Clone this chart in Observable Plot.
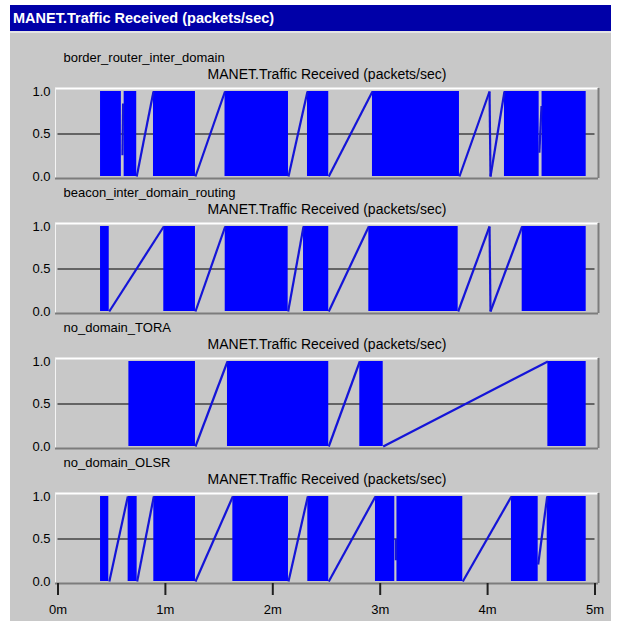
<!DOCTYPE html>
<html>
<head>
<meta charset="utf-8">
<script src="https://cdn.jsdelivr.net/npm/d3@7"></script>
<script src="https://cdn.jsdelivr.net/npm/@observablehq/plot@0.6"></script>
<style>
  html, body { margin: 0; padding: 0; background: #ffffff; }
  #win { position: absolute; left: 10px; top: 5px; width: 601px; height: 616px; background: #c8c8c8; }
  #bar { height: 26px; background: #0000a8; color: #ffffff; font: bold 14.5px "Liberation Sans", Arial, sans-serif;
         line-height: 26px; padding-left: 3px; border-bottom: 2px solid #e4e4e4; box-sizing: content-box; }
  #chart svg { display: block; }
</style>
</head>
<body>
<div id="win">
  <div id="bar">MANET.Traffic Received (packets/sec)</div>
  <div id="chart"></div>
</div>
<script>
// Scenario names (one panel each)
const series = ["border_router_inter_domain", "beacon_inter_domain_routing", "no_domain_TORA", "no_domain_OLSR"];
const panelTitle = "MANET.Traffic Received (packets/sec)";

// Time ticks (minutes)
const xTicks = [0, 1, 2, 3, 4, 5];
const yTicks = [0, 0.5, 1];

// Dense 0/1 bursts: [start, end] in minutes, per scenario
const burstsBorder = [[0.396, 0.590], [0.616, 0.733], [0.889, 1.280], [1.555, 2.146], [2.323, 2.521], [2.928, 3.738], [4.157, 4.480], [4.507, 4.918]];
const burstsBeacon = [[0.396, 0.477], [0.985, 1.280], [1.557, 2.143], [2.286, 2.521], [2.894, 3.726], [4.322, 4.918]];
const burstsTORA   = [[0.660, 1.280], [1.578, 2.521], [2.810, 3.028], [4.561, 4.918]];
const burstsOLSR   = [[0.396, 0.473], [0.653, 0.737], [0.892, 1.280], [1.628, 2.146], [2.326, 2.521], [2.956, 3.136], [3.156, 3.769], [4.222, 4.471], [4.555, 4.918]];

// Sparse samples joined by straight lines: [t1, v1, t2, v2]
const linesBorder = [[0.600, 0.25, 0.606, 0.86], [0.733, 0, 0.889, 1], [1.280, 0, 1.555, 1], [2.146, 0, 2.323, 1], [2.521, 0, 2.928, 1],
                     [3.738, 0, 4.018, 1], [4.018, 1, 4.027, 0], [4.027, 0, 4.157, 1], [4.482, 0.28, 4.502, 0.83]];
const linesBeacon = [[0.477, 0, 0.985, 1], [1.280, 0, 1.557, 1], [2.143, 0, 2.286, 1], [2.521, 0, 2.894, 1],
                     [3.726, 0, 4.018, 1], [4.018, 1, 4.027, 0], [4.027, 0, 4.322, 1]];
const linesTORA   = [[1.280, 0, 1.578, 1], [2.521, 0, 2.810, 1], [3.028, 0, 4.561, 1]];
const linesOLSR   = [[0.478, 0, 0.650, 1], [0.737, 0, 0.892, 1], [1.280, 0, 1.628, 1], [2.146, 0, 2.326, 1], [2.521, 0, 2.956, 1],
                     [3.146, 0.25, 3.146, 0.5], [3.769, 0, 4.222, 1], [4.471, 0.2, 4.555, 1]];

const burstLists = [burstsBorder, burstsBeacon, burstsTORA, burstsOLSR];
const lineLists = [linesBorder, linesBeacon, linesTORA, linesOLSR];

const bursts = burstLists.flatMap((list, i) => list.map(([a, b]) => ({series: series[i], start: a, end: b, lo: 0, hi: 1})));
const segs = lineLists.flatMap((list, i) => list.map(([t1, v1, t2, v2]) => ({series: series[i], t1, v1, t2, v2})));

const font = '"Liberation Sans", Arial, sans-serif';

const chart = Plot.plot({
  width: 601,
  height: 588,
  marginLeft: 45,
  marginRight: 13,
  marginTop: 55,
  marginBottom: 38,
  style: {background: "transparent", fontFamily: font, fontSize: "13px", color: "#000"},
  x: {domain: [0, 5], range: [47.5, 584.5]},
  y: {domain: [0, 1], insetTop: 3, insetBottom: 2},
  fy: {domain: series, axis: null, paddingInner: 1 / 3, paddingOuter: 0, round: false},
  marks: [
    // panel edges (sunken look)
    Plot.ruleY([1], {dy: -3, stroke: "#ffffff", strokeWidth: 2}),
    Plot.ruleX([0], {dx: -2.5, stroke: "#f4f4f4", strokeWidth: 1}),
    Plot.ruleY([0], {dy: 2, stroke: "#7c7c7c", strokeWidth: 2}),
    Plot.ruleX([5], {dx: 3.5, stroke: "#7c7c7c", strokeWidth: 2}),
    // 0.5 reference line
    Plot.ruleY([0.5], {x1: 0, x2: 5, stroke: "#000000", strokeWidth: 1}),
    // dense bursts
    Plot.rect(bursts, {fy: "series", x1: "start", x2: "end", y1: "lo", y2: "hi", fill: "#0000ff"}),
    // sparse connecting lines
    Plot.link(segs, {fy: "series", x1: "t1", y1: "v1", x2: "t2", y2: "v2", stroke: "#1414d8", strokeWidth: 2.2}),
    // axes
    Plot.axisY({ticks: yTicks, tickFormat: d => d.toFixed(1), tickSize: 0, tickPadding: 5, fontSize: 13, label: null}),
    Plot.axisX({ticks: xTicks, tickFormat: d => d + "m", tickSize: 12, tickPadding: 9, stroke: "#202020", strokeWidth: 2,
                fontSize: 13, label: null, facetAnchor: "bottom"}),
    // panel labels
    Plot.text(series, {fy: d => d, text: d => d, frameAnchor: "top-left", dx: 8, dy: -31, textAnchor: "start",
                       lineAnchor: "middle", fontSize: 13, fill: "#000"}),
    Plot.text(series, {fy: d => d, text: () => panelTitle, frameAnchor: "top", dy: -14,
                       lineAnchor: "middle", fontSize: 14, fill: "#000"})
  ]
});
document.getElementById("chart").appendChild(chart);
</script>
</body>
</html>
